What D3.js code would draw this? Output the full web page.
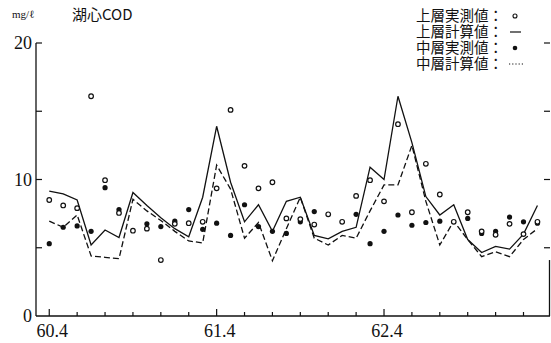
<!DOCTYPE html>
<html>
<head>
<meta charset="utf-8">
<script src="https://cdn.jsdelivr.net/npm/d3@7"></script>
<style>
  body { margin: 0; background: #fff; }
  svg { display: block; }
  .num { font-family: "Liberation Serif", serif; font-size: 18px; fill: #111; }
  .jp { font-family: "Noto Sans CJK JP", sans-serif; fill: #111; }
</style>
</head>
<body>
<div id="chart"></div>
<script>
// months counted from S60.4 (0 = 60.4, 12 = 61.4, 24 = 62.4)
const months = d3.range(0, 36);
const tickMonths = d3.range(0, 35, 2);
const tickLabels = { 0: "60.4", 12: "61.4", 24: "62.4" };
const yTicks = [0, 5, 10, 15, 20];
const yLabels = [0, 10, 20];

// 上層計算値 (solid)
const upperCalc = [9.15, 8.95, 8.5, 5.2, 6.3, 5.75, 9.05, 8.1, 7.2, 6.4, 5.8, 8.7,
  13.9, 9.8, 6.9, 8.15, 6.2, 8.4, 8.7, 5.9, 5.65, 6.2, 6.5, 10.9,
  10.0, 16.1, 12.7, 8.75, 7.4, 8.15, 5.6, 4.65, 5.1, 4.9, 6.0, 8.1];
// 中層計算値 (dashed)
const middleCalc = [6.95, 6.5, 7.4, 4.4, 4.3, 4.2, 8.55, 7.7, 7.0, 6.2, 5.5, 5.35,
  11.05, 9.3, 5.7, 6.85, 4.05, 6.4, 8.7, 5.7, 5.2, 5.9, 5.7, 7.7,
  9.6, 9.6, 12.5, 8.4, 5.2, 6.95, 5.6, 4.35, 4.7, 4.35, 5.6, 6.4];
// 上層実測値 (open circles)
const upperObs = [8.5, 8.1, 7.9, 16.1, 9.95, 7.55, 6.25, 6.4, 4.1, 6.75, 6.8, 6.9,
  9.35, 15.1, 11.0, 9.35, 9.8, 7.15, 7.1, 6.7, 7.45, 6.9, 8.8, 9.95,
  8.4, 14.05, 7.6, 11.15, 8.9, 6.9, 7.6, 6.2, 5.95, 6.75, 6.0, 6.9];
// 中層実測値 (filled circles)
const middleObs = [5.3, 6.5, 6.6, 6.2, 9.4, 7.8, null, 6.75, 6.55, 6.95, 7.8, 6.35,
  6.8, 5.9, 8.15, 6.55, 6.2, 6.05, 6.9, 7.65, null, null, 7.45, 5.3,
  6.2, 7.4, 6.65, 6.85, 6.95, null, 7.15, 6.05, 6.2, 7.25, 6.9, 6.8];

const legendItems = ["上層実測値：", "上層計算値：", "中層実測値：", "中層計算値："];

const W = 551, H = 343;
const svg = d3.select("#chart").append("svg")
  .attr("width", W).attr("height", H);

const x = d3.scaleLinear().domain([-0.95, 35.9]).range([36, 550]);
const y = d3.scaleLinear().domain([0, 20]).range([316, 43]);

const ink = "#111";

// frame: left axis, bottom axis, short right edge
svg.append("line").attr("x1", x(-0.95)).attr("x2", x(-0.95))
  .attr("y1", y(20)).attr("y2", y(0)).attr("stroke", ink).attr("stroke-width", 1.3);
svg.append("line").attr("x1", x(-0.95)).attr("x2", x(35.9))
  .attr("y1", y(0)).attr("y2", y(0)).attr("stroke", ink).attr("stroke-width", 1.3);
svg.append("line").attr("x1", x(35.9) - 0.5).attr("x2", x(35.9) - 0.5)
  .attr("y1", y(0)).attr("y2", y(4.1)).attr("stroke", ink).attr("stroke-width", 1.3);

// y ticks, both sides, pointing inward
svg.append("g").selectAll("line.yl").data(yTicks.filter(d => d > 0)).join("line")
  .attr("x1", x(-0.95)).attr("x2", x(-0.95) + 6)
  .attr("y1", d => y(d)).attr("y2", d => y(d))
  .attr("stroke", ink).attr("stroke-width", 1.2);
svg.append("g").selectAll("line.yr").data(yTicks.filter(d => d > 0)).join("line")
  .attr("x1", x(35.9)).attr("x2", x(35.9) - 6)
  .attr("y1", d => y(d)).attr("y2", d => y(d))
  .attr("stroke", ink).attr("stroke-width", 1.2);

svg.append("g").selectAll("text").data(yLabels).join("text")
  .attr("class", "num")
  .attr("x", 32).attr("y", d => y(d) + 6)
  .attr("text-anchor", "end")
  .text(d => d);

// x ticks, pointing up
svg.append("g").selectAll("line").data(tickMonths).join("line")
  .attr("x1", d => x(d)).attr("x2", d => x(d))
  .attr("y1", y(0)).attr("y2", d => y(0) - (tickLabels[d] ? 7 : 4))
  .attr("stroke", ink).attr("stroke-width", 1.2);

svg.append("g").selectAll("text").data(tickMonths.filter(d => tickLabels[d])).join("text")
  .attr("class", "num")
  .attr("x", d => x(d) + 3).attr("y", 337)
  .attr("text-anchor", "middle")
  .text(d => tickLabels[d]);

// titles
svg.append("text").attr("x", 12).attr("y", 18)
  .attr("font-family", "Liberation Serif, serif").attr("font-size", 11).attr("fill", ink)
  .text("mg/ℓ");
svg.append("text").attr("class", "jp").attr("x", 72).attr("y", 20)
  .attr("font-size", 15).text("湖心COD");

// lines
const line = d3.line()
  .x((d, i) => x(months[i]))
  .y(d => y(d));

svg.append("path").datum(middleCalc)
  .attr("d", line).attr("fill", "none")
  .attr("stroke", ink).attr("stroke-width", 1.3)
  .attr("stroke-dasharray", "6,3");

svg.append("path").datum(upperCalc)
  .attr("d", line).attr("fill", "none")
  .attr("stroke", ink).attr("stroke-width", 1.3);

// observed points
svg.append("g").selectAll("circle")
  .data(middleObs.map((v, i) => [months[i], v]).filter(d => d[1] != null))
  .join("circle")
  .attr("cx", d => x(d[0])).attr("cy", d => y(d[1])).attr("r", 2.6)
  .attr("fill", ink);

svg.append("g").selectAll("circle")
  .data(upperObs.map((v, i) => [months[i], v]).filter(d => d[1] != null))
  .join("circle")
  .attr("cx", d => x(d[0])).attr("cy", d => y(d[1])).attr("r", 2.3)
  .attr("fill", "#fff").attr("stroke", ink).attr("stroke-width", 1.2);

// legend: one text block, one tspan per row
const lg = svg.append("g");
lg.append("text")
  .attr("class", "jp").attr("font-size", 14.5)
  .selectAll("tspan").data(legendItems).join("tspan")
  .attr("x", 416).attr("y", (d, i) => 21 + i * 16)
  .text(d => d);

const sx = 515;
lg.append("circle").attr("cx", sx).attr("cy", 16).attr("r", 2)
  .attr("fill", "#fff").attr("stroke", ink).attr("stroke-width", 1.1);
lg.append("line").attr("x1", sx - 5).attr("x2", sx + 6).attr("y1", 32).attr("y2", 32)
  .attr("stroke", ink).attr("stroke-width", 1.2);
lg.append("circle").attr("cx", sx).attr("cy", 48).attr("r", 2.3).attr("fill", ink);
lg.append("line").attr("x1", sx - 6).attr("x2", sx + 9).attr("y1", 64).attr("y2", 64)
  .attr("stroke", ink).attr("stroke-width", 1).attr("stroke-dasharray", "1.2,2");
</script>
</body>
</html>
